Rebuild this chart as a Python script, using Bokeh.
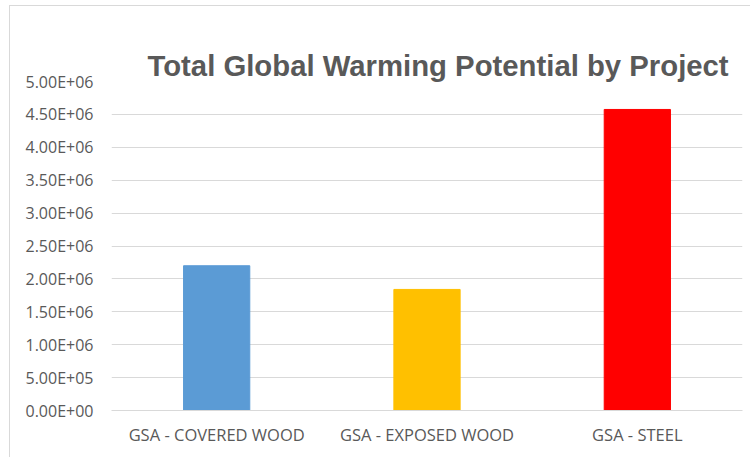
from bokeh.plotting import figure
from bokeh.models import FixedTicker, ColumnDataSource, Title
from bokeh.embed import file_html
from bokeh.resources import INLINE

categories = ["GSA - COVERED WOOD", "GSA - EXPOSED WOOD", "GSA - STEEL"]
values = [2.20e6, 1.84e6, 4.575e6]
colors = ["#5B9BD5", "#FFC000", "#FF0000"]
y_ticks = [0, 5e5, 1e6, 1.5e6, 2e6, 2.5e6, 3e6, 3.5e6, 4e6, 4.5e6, 5e6]
y_tick_labels = ["0.00E+00", "5.00E+05", "1.00E+06", "1.50E+06", "2.00E+06",
                 "2.50E+06", "3.00E+06", "3.50E+06", "4.00E+06", "4.50E+06", "5.00E+06"]
title_text = "Total Global Warming Potential by Project"

W, H = 741, 452
ML, MT, MB, MR = 101, 75, 48, 9
p = figure(x_range=categories, y_range=(0, 5e6), width=W, height=H,
           output_backend="svg", toolbar_location=None,
           min_border_left=ML, min_border_right=MR, min_border_top=MT, min_border_bottom=MB)
p.styles = {"margin-left": "9px", "margin-top": "5px",
            "border-left": "1px solid #D9D9D9", "border-top": "1px solid #D9D9D9"}
p.outline_line_color = None
p.background_fill_color = "white"
p.border_fill_color = "white"

# title first, then an invisible spacer that sits between the title and the frame
p.add_layout(Title(text=title_text, text_font="Liberation Sans", text_font_style="bold",
                   text_font_size="29.3px", text_color="#595959", align="left",
                   offset=36, standoff=0), "above")
p.add_layout(Title(text=".", text_font_size="1px", text_alpha=0, standoff=26), "above")

src = ColumnDataSource(dict(cat=categories, val=values, col=colors))
p.vbar(x="cat", top="val", width=0.315, color="col", source=src)

p.yaxis.ticker = FixedTicker(ticks=y_ticks)
p.yaxis.major_label_overrides = {t: l for t, l in zip(y_ticks, y_tick_labels)}
p.yaxis.axis_line_color = None
p.yaxis.major_tick_line_color = None
p.yaxis.minor_tick_line_color = None
p.yaxis.major_tick_out = 0
p.yaxis.major_label_standoff = 18
for ax in (p.xaxis, p.yaxis):
    ax.major_label_text_font = "Open Sans"
    ax.major_label_text_font_size = "16px"
    ax.major_label_text_color = "#595959"
p.xaxis.axis_line_color = "#D9D9D9"
p.xaxis.axis_line_width = 1
p.xaxis.major_tick_line_color = None
p.xaxis.minor_tick_line_color = None
p.xaxis.major_tick_out = 0
p.xaxis.major_label_standoff = 12
p.xaxis.major_label_text_font_size = "16.5px"

p.xgrid.grid_line_color = None
p.ygrid.grid_line_color = "#D9D9D9"
p.ygrid.grid_line_width = 1

open("out.html", "w").write(file_html(p, INLINE))
